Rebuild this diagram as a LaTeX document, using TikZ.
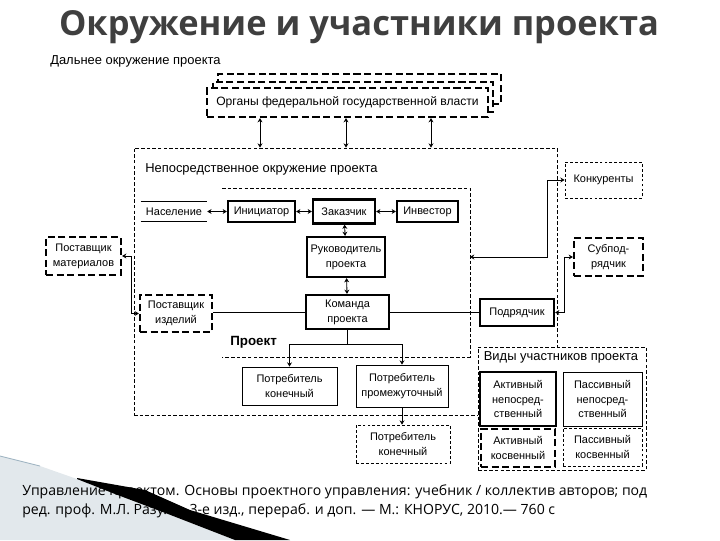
\documentclass[tikz,border=0pt]{standalone}
\usepackage{fontspec}
\setmainfont{Liberation Sans}
\newfontfamily\titlefont{Open Sans}
\newfontfamily\citefont{Open Sans}
\usetikzlibrary{arrows.meta,calc}
\definecolor{titlegray}{HTML}{3F3F3F}
\definecolor{swooshgray}{HTML}{E2E8EC}
\definecolor{swooshline}{HTML}{9FB4C2}
\newdimen\unitpx \unitpx=0.025cm

\tikzset{
  box/.style={draw, fill=white, align=center, inner sep=0pt, font=\fontsize{7.8}{10.5}\selectfont},
  boxsize/.style 2 args={minimum width=#1\unitpx, minimum height=#2\unitpx},
  actbox/.style={box, line width=1.6pt},
  pasbox/.style={box, line width=0.6pt},
  actind/.style={actbox, dash pattern=on 5pt off 2.5pt},
  pasind/.style={pasbox, dash pattern=on 2pt off 1.5pt},
  region/.style={draw, line width=0.6pt, dash pattern=on 2.5pt off 1.5pt},
  areatext/.style={inner sep=0pt, font=\fontsize{9.2}{10}\selectfont},
  link/.style={line width=0.6pt, {Stealth[length=3pt,width=3.5pt]}-{Stealth[length=3pt,width=3.5pt]}},
  flow/.style={line width=0.6pt, -{Stealth[length=3pt,width=3.5pt]}}
}

\begin{document}
\begin{tikzpicture}[x=0.025cm, y=-0.025cm]
\useasboundingbox (0,0) rectangle (720,540);

% slide decoration, back part
\fill[swooshgray] (0,456) -- (40,466) -- (77,479) -- (115,494) -- (168,514) -- (235,540) -- (0,540) -- cycle;
\draw[swooshline, line width=0.6pt] (0,456) -- (40,466);

\node[anchor=base, font=\titlefont\bfseries\fontsize{24.5}{28}\selectfont, text=titlegray] (title) at (359,35) {Окружение и участники проекта};

% far environment
\node[areatext, anchor=west] (farlbl) at (50,61) {Дальнее окружение проекта};
\node[actind, boxsize={283}{30}] (fed3) at (359.5,89) {};
\node[actind, boxsize={280}{30}] (fed2) at (353,97) {};
\node[actind, boxsize={281}{29}, font=\fontsize{8.6}{10}\selectfont] (fed) at (347.5,102.5) {Органы федеральной государственной власти};

% direct environment and project
\node[region, boxsize={423}{267}] (env) at (345.5,281.5) {};
\node[areatext, anchor=west] (envlbl) at (145,169) {Непосредственное окружение проекта};
\draw[region] (222,188) -- (470,188) -- (470,357) -- (222,357);
\coordinate (projE) at (470,257);
\node[areatext, anchor=west, font=\bfseries\fontsize{9.5}{10}\selectfont] (projlbl) at (230,342) {Проект};

\node[box, draw=none, fill=none, boxsize={66}{20}] (pop) at (174,211.5) {Население};
\draw[line width=0.6pt] (pop.north west) -- (pop.north east) (pop.south west) -- (pop.south east);

\node[actbox, boxsize={67}{21}] (init) at (261.5,211.5) {Инициатор};
\node[actbox, boxsize={62}{24}] (cust) at (344,211.5) {Заказчик};
\node[actbox, boxsize={61}{21}] (inv) at (427.5,211.5) {Инвестор};
\node[actbox, boxsize={78}{40}] (head) at (346,257) {Руководитель\\проекта};
\node[actbox, boxsize={83}{34}] (team) at (347.5,312) {Команда\\проекта};

\node[actind, boxsize={75}{38}] (supA) at (83.5,256) {Поставщик\\материалов};
\node[actind, boxsize={72}{37}] (supB) at (176,313.5) {Поставщик\\изделий};
\node[actbox, boxsize={74}{27}] (contr) at (517,312.5) {Подрядчик};
\node[pasind, boxsize={77}{36}] (comp) at (603.5,180) {Конкуренты};
\node[actind, boxsize={69}{38}] (subc) at (608.5,257) {Субпод-\\рядчик};

\node[pasbox, boxsize={95}{38}] (cons1) at (289.5,386) {Потребитель\\конечный};
\node[pasbox, boxsize={92}{42}] (cons2) at (402,386) {Потребитель\\промежуточный};
\node[pasind, boxsize={94}{38}] (cons3) at (403,444) {Потребитель\\конечный};

% kinds of participants
\node[region, fill=white, boxsize={168}{123}] (kinds) at (562,408.5) {};
\node[areatext] (kindslbl) at (561,357) {Виды участников проекта};
\node[box, line width=1.1pt, boxsize={76}{54}] (actdir) at (518,399) {Активный\\непосред-\\ственный};
\node[pasbox, boxsize={79}{54}] (pasdir) at (602.5,399) {Пассивный\\непосред-\\ственный};
\node[actind, boxsize={74}{38}] (actind) at (518,448) {Активный\\косвенный};
\node[pasind, boxsize={79}{38}] (pasind) at (602.5,447) {Пассивный\\косвенный};

% connectors
\foreach \x in {260,346,431}
  \draw[link] (\x,0 |- fed.south) -- (\x,0 |- env.north);
\draw[link] (pop) -- (init);
\draw[link] (init) -- (cust);
\draw[link] (cust) -- (inv);
\draw[link] (cust) -- (head);
\draw[link] (head) -- (team);
\draw[line width=0.6pt] (team.west) -- (team.west -| supB.east);
\draw[line width=0.6pt] (team.east) -- (team.east -| contr.west);
\draw[link] (supA.east) -- ++(9,0) |- (supB.west);
\draw[link] (projE) -- ++(77,0) |- (comp.west);
\draw[link] (contr.east) -- ++(9,0) |- (subc.west);
\draw[line width=0.6pt] (team.south) -- ++(0,14) coordinate (split);
\draw[flow] (split) -| (cons1.north);
\draw[flow] (split) -| (cons2.north);
\draw[flow] (cons2.south) -- (cons2.south |- cons3.north);

% reference
\node[anchor=north west, align=left, inner sep=0pt, font=\citefont\fontsize{10}{13.5}\selectfont] (cite) at (22,484)
  {Управление проектом. Основы проектного управления: учебник / коллектив авторов; под\\
   ред. проф. М.Л. Разу. — 3-е изд., перераб. и доп. — М.: КНОРУС, 2010.— 760 с};

% slide decoration, front part
\fill[black] (77,478) -- (145,490) -- (190,510) -- (290,540) -- (235,540) -- (168,514) -- (115,494) -- (77,479) -- cycle;
\end{tikzpicture}
\end{document}
